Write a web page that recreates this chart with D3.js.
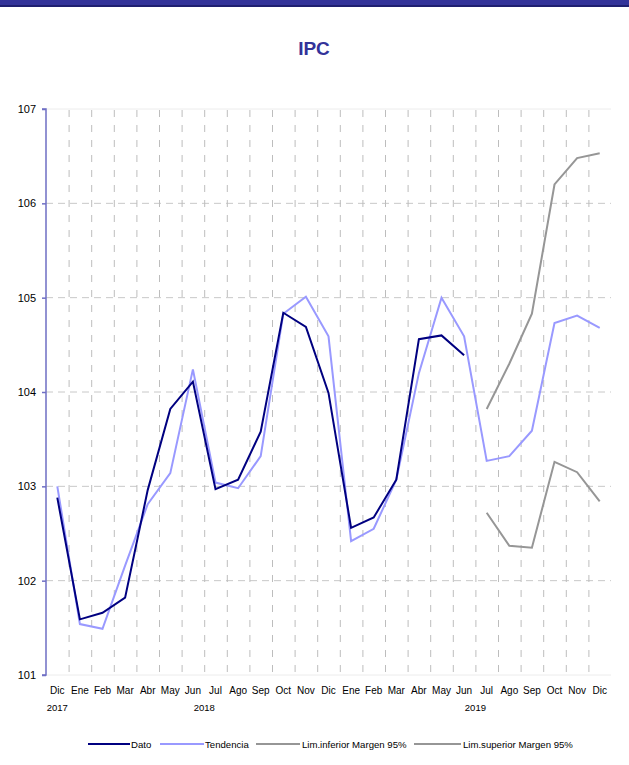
<!DOCTYPE html>
<html><head><meta charset="utf-8">
<script src="https://cdn.jsdelivr.net/npm/d3@7"></script>
<style>
html,body{margin:0;padding:0;background:#fff;}
svg{display:block;font-family:"Liberation Sans",Arial,sans-serif;}
</style></head>
<body>
<svg id="chart" width="629" height="765"></svg>
<script>
// ---- data ----
const periods = ["2017-12","2018-01","2018-02","2018-03","2018-04","2018-05","2018-06","2018-07","2018-08","2018-09","2018-10","2018-11","2018-12","2019-01","2019-02","2019-03","2019-04","2019-05","2019-06","2019-07","2019-08","2019-09","2019-10","2019-11","2019-12"];
const monthLabels = ["Dic","Ene","Feb","Mar","Abr","May","Jun","Jul","Ago","Sep","Oct","Nov","Dic","Ene","Feb","Mar","Abr","May","Jun","Jul","Ago","Sep","Oct","Nov","Dic"];
const yearLabels = [{year:"2017", from:"2017-12", to:"2017-12"},{year:"2018", from:"2018-01", to:"2018-12"},{year:"2019", from:"2019-01", to:"2019-12"}];
const dato = [102.88,101.59,101.66,101.82,102.96,103.82,104.11,102.97,103.07,103.58,104.84,104.69,103.99,102.56,102.67,103.07,104.56,104.60,104.39,null,null,null,null,null,null];
const tendencia = [103.00,101.54,101.49,102.16,102.81,103.14,104.24,103.04,102.98,103.32,104.83,105.01,104.59,102.42,102.55,103.07,104.20,105.00,104.59,103.27,103.32,103.59,104.73,104.81,104.68];
const limInferior = [null,null,null,null,null,null,null,null,null,null,null,null,null,null,null,null,null,null,null,102.72,102.37,102.35,103.26,103.15,102.84];
const limSuperior = [null,null,null,null,null,null,null,null,null,null,null,null,null,null,null,null,null,null,null,103.82,104.30,104.83,106.20,106.48,106.53];
const yTicks = [101,102,103,104,105,106,107];
const seriesNames = ["Dato","Tendencia","Lim.inferior Margen 95%","Lim.superior Margen 95%"];
const seriesColors = ["#000080","#9999ff","#969696","#969696"];
const title = "IPC";

// ---- layout ----
const svg = d3.select("#chart");
const pL = 46, pR = 611, pT = 109, pB = 675;

svg.append("rect").attr("x",0).attr("y",0).attr("width",629).attr("height",5).attr("fill","#333399");
svg.append("rect").attr("x",0).attr("y",5).attr("width",629).attr("height",2).attr("fill","#1f1f70");

svg.append("text").attr("x",314).attr("y",55).attr("text-anchor","middle")
  .attr("font-size",19).attr("font-weight","bold").attr("fill","#333399").text(title);

const x = d3.scaleBand().domain(periods).range([pL,pR]).padding(0);
const y = d3.scaleLinear().domain([101,107]).range([pB,pT]);

// grid horizontal
const g = svg.append("g");
g.selectAll("line.h").data(yTicks).enter().append("line")
  .attr("x1",pL).attr("x2",pR)
  .attr("y1",d=>y(d)).attr("y2",d=>y(d))
  .attr("stroke",d=> (d===101||d===107) ? "#ececec" : "#c8c8c8")
  .attr("stroke-width",1)
  .attr("stroke-dasharray",d=> (d===101||d===107) ? null : "7,5");
// grid vertical at category boundaries
g.selectAll("line.v").data(periods.slice(1)).enter().append("line")
  .attr("x1",d=>x(d)+0.5).attr("x2",d=>x(d)+0.5)
  .attr("y1",pT+1).attr("y2",pB)
  .attr("stroke","#bdbdbd").attr("stroke-width",1)
  .attr("stroke-dasharray","7,8");

// y axis
const yAxis = d3.axisLeft(y).tickValues(yTicks).tickSize(4).tickPadding(6).tickFormat(d3.format("d"));
const ya = svg.append("g").attr("transform",`translate(${pL},0)`).call(yAxis);
ya.select(".domain").attr("stroke","#6f6fc4").attr("stroke-width",1.5).attr("d",`M-4,${pT}H0V${pB}H-4`);
ya.selectAll(".tick line").attr("stroke","#6f6fc4").attr("stroke-width",1.5);
ya.selectAll(".tick text").attr("font-size",11).attr("fill","#000").attr("font-family","Liberation Sans, Arial, sans-serif");

// x axis labels
const xAxis = d3.axisBottom(x).tickSize(0).tickPadding(12).tickFormat((d,i)=>monthLabels[i]);
const xa = svg.append("g").attr("transform",`translate(0,${pB})`).call(xAxis);
xa.select(".domain").remove();
xa.selectAll(".tick text").attr("font-size",10).attr("fill","#000").attr("font-family","Liberation Sans, Arial, sans-serif");

svg.append("g").selectAll("text").data(yearLabels).enter().append("text")
  .attr("x",d=> (x(d.from) + x(d.to) + x.bandwidth())/2)
  .attr("y",711).attr("text-anchor","middle").attr("font-size",9.5).attr("fill","#000")
  .text(d=>d.year);

// lines
const allSeries = [dato,tendencia,limInferior,limSuperior];
const line = d3.line().defined(d=>d.v!=null).x(d=>x(d.p)+x.bandwidth()/2).y(d=>y(d.v));
const order = [1,2,3,0];
order.forEach(k=>{
  const s = allSeries[k];
  const pts = periods.map((p,i)=>({p, v:s[i]}));
  svg.append("path").datum(pts).attr("d",line).attr("fill","none")
    .attr("stroke",seriesColors[k]).attr("stroke-width",2);
});

// legend
const legendItems = [
  {x1:88,x2:130,tx:131},
  {x1:160,x2:204,tx:205},
  {x1:256,x2:300,tx:302},
  {x1:414,x2:461,tx:463}
];
const lg = svg.append("g");
seriesNames.forEach((n,k)=>{
  const it = legendItems[k];
  lg.append("line").attr("x1",it.x1).attr("x2",it.x2).attr("y1",744).attr("y2",744)
    .attr("stroke",seriesColors[k]).attr("stroke-width",2);
  lg.append("text").attr("x",it.tx).attr("y",747.5).attr("font-size",9.6).attr("fill","#000").text(n);
});
</script>
</body></html>
